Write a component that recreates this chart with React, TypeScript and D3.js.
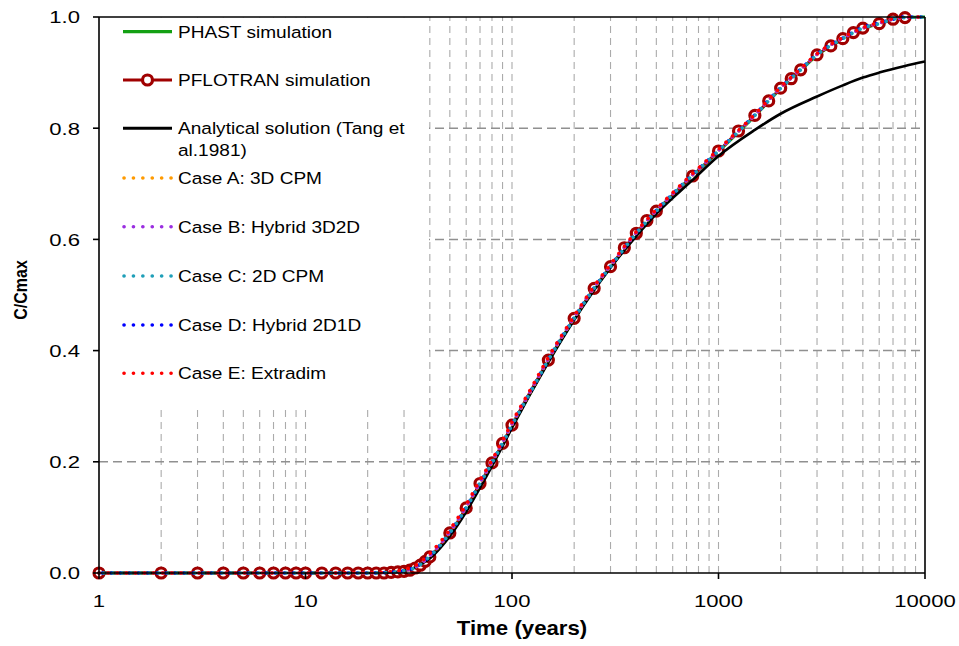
import React from "react";
import * as d3 from "d3";

// ---- data ----
const pflotranTime = [
  1, 2, 3, 4, 5, 6, 7, 8, 9, 10, 12, 14, 16, 18, 20, 22, 24, 26, 28, 30, 32, 34,
  36, 38, 40, 50, 60, 70, 80, 90, 100, 150, 200, 250, 300, 350, 400, 450, 500,
  750, 1000, 1250, 1500, 1750, 2000, 2250, 2500, 3000, 3500, 4000, 4500, 5000,
  6000, 7000, 8000,
];
const pflotranConc = [
  0, 0, 0, 0, 0, 0, 0, 0, 0, 0, 0, 0, 0, 0, 0, 0, 0, 0.001, 0.002, 0.003, 0.005,
  0.009, 0.014, 0.021, 0.029, 0.072, 0.117, 0.161, 0.198, 0.233, 0.266, 0.383,
  0.458, 0.512, 0.551, 0.585, 0.611, 0.634, 0.651, 0.714, 0.759, 0.795, 0.823,
  0.849, 0.872, 0.889, 0.905, 0.932, 0.948, 0.961, 0.972, 0.98, 0.988, 0.996,
  0.999,
];

const phastTime = [
  1, 10, 20, 25, 30, 35, 40, 45, 50, 60, 70, 80, 90, 100, 125, 150, 200, 250,
  300, 400, 500, 700, 1000, 1500, 2000, 2500, 3000, 4000, 5000, 6000, 7000, 8000,
  10000,
];
const phastConc = [
  0, 0, 0, 0.0008, 0.003, 0.011, 0.028, 0.049, 0.071, 0.116, 0.16, 0.197, 0.232,
  0.265, 0.329, 0.382, 0.457, 0.511, 0.55, 0.61, 0.65, 0.704, 0.758, 0.822,
  0.871, 0.904, 0.931, 0.96, 0.979, 0.988, 0.995, 0.999, 1.0,
];

const analyticTime = [
  1, 10, 20, 25, 28, 30, 33, 36, 40, 45, 50, 60, 70, 80, 90, 100, 150, 200, 300,
  400, 500, 750, 1000, 1500, 2000, 3000, 4000, 5000, 6000, 8000, 10000,
];
const analyticConc = [
  0, 0, 0, 0.0005, 0.002, 0.004, 0.008, 0.015, 0.026, 0.045, 0.066, 0.11,
  0.153, 0.192, 0.228, 0.261, 0.379, 0.455, 0.549, 0.606, 0.646, 0.707, 0.75,
  0.797, 0.826, 0.857, 0.877, 0.891, 0.9, 0.912, 0.92,
];

const caseTime = [
  1, 10, 20, 25, 30, 35, 40, 45, 50, 60, 70, 80, 90, 100, 125, 150, 200, 250,
  300, 400, 500, 700, 1000, 1500, 2000, 2500, 3000, 4000, 5000, 6000, 7000, 8000,
  10000,
];
const caseAConc = [
  0, 0, 0, 0.001, 0.004, 0.013, 0.031, 0.051, 0.073, 0.118, 0.162, 0.199, 0.234,
  0.267, 0.331, 0.384, 0.459, 0.513, 0.552, 0.612, 0.652, 0.706, 0.76, 0.824,
  0.873, 0.906, 0.933, 0.962, 0.98, 0.989, 0.996, 0.999, 1.0,
];
const caseBConc = [
  0, 0, 0, 0.001, 0.004, 0.013, 0.031, 0.052, 0.074, 0.119, 0.163, 0.2, 0.235,
  0.268, 0.332, 0.385, 0.46, 0.514, 0.553, 0.612, 0.652, 0.706, 0.76, 0.824,
  0.873, 0.906, 0.933, 0.962, 0.98, 0.989, 0.996, 0.999, 1.0,
];
const caseCConc = [
  0, 0, 0, 0.001, 0.004, 0.012, 0.03, 0.05, 0.072, 0.117, 0.161, 0.198, 0.233,
  0.266, 0.33, 0.383, 0.458, 0.512, 0.551, 0.611, 0.651, 0.705, 0.759, 0.823,
  0.872, 0.905, 0.932, 0.961, 0.98, 0.988, 0.996, 0.999, 1.0,
];
const caseDConc = [
  0, 0, 0, 0.001, 0.004, 0.013, 0.031, 0.051, 0.073, 0.118, 0.162, 0.199, 0.234,
  0.267, 0.331, 0.384, 0.459, 0.513, 0.552, 0.612, 0.652, 0.706, 0.76, 0.824,
  0.873, 0.906, 0.933, 0.962, 0.981, 0.989, 0.996, 1.0, 1.0,
];
const caseEConc = [
  0, 0, 0.0005, 0.002, 0.006, 0.016, 0.035, 0.056, 0.078, 0.123, 0.167, 0.203,
  0.238, 0.271, 0.335, 0.388, 0.462, 0.516, 0.555, 0.614, 0.654, 0.708, 0.762,
  0.825, 0.874, 0.907, 0.934, 0.963, 0.981, 0.99, 0.997, 1.0, 1.0,
];

const timeTickValues = [1, 10, 100, 1000, 10000];
const concTickValues = [0, 0.2, 0.4, 0.6, 0.8, 1.0];
const gridConcValues = [0.2, 0.4, 0.6, 0.8];

const legendLabels = [
  "PHAST simulation",
  "PFLOTRAN simulation",
  "Analytical solution (Tang et|al.1981)",
  "Case A: 3D CPM",
  "Case B: Hybrid 3D2D",
  "Case C: 2D CPM",
  "Case D: Hybrid 2D1D",
  "Case E: Extradim",
];

// ---- styling ----
const W = 959;
const H = 646;
const FONT = "'Liberation Sans', Arial, sans-serif";
const DARK_RED = "#a00000";
const GREEN = "#13a013";
const CASE_COLORS = ["#ff9a00", "#9a2ee0", "#1f9fb8", "#0000ff", "#ff0000"];
// dash phase per case (A..E) and drawing order (teal and red end up on top)
const CASE_OFFSETS = [0, 0, 4.5, 5.6, 0];
const CASE_ORDER = [0, 1, 3, 2, 4];

type Pt = { t: number; c: number };
const zip = (ts: number[], cs: number[]): Pt[] => ts.map((t, i) => ({ t, c: cs[i] }));

export default function App() {
  const x = d3.scaleLog().domain([1, 10000]).range([99, 925]);
  const y = d3.scaleLinear().domain([0, 1]).range([573, 17]);

  const line = d3
    .line<Pt>()
    .x((d) => x(d.t))
    .y((d) => y(d.c))
    .curve(d3.curveMonotoneX);

  const pflotran = zip(pflotranTime, pflotranConc);
  const phast = zip(phastTime, phastConc);
  const analytic = zip(analyticTime, analyticConc);
  const cases = [caseAConc, caseBConc, caseCConc, caseDConc, caseEConc].map((cs) =>
    zip(caseTime, cs)
  );

  const gridTimes = x.ticks().filter((t) => t > 1 && t < 10000);

  const legendX0 = 123;
  const legendX1 = 172;
  const legendTextX = 178;
  const legendRowY = [31.7, 80, 128.3, 178, 226.7, 276, 325, 373.3];

  const tickSx = 1.3;
  const legendSx = 1.17;

  return (
    <svg
      width={W}
      height={H}
      style={{ position: "absolute", left: 0, top: 0, background: "#fff" }}
      fontFamily={FONT}
    >
      <rect x={0} y={0} width={W} height={H} fill="#fff" />

      {/* gridlines */}
      <g>
        {gridTimes.map((t) => (
          <line
            key={"vx" + t}
            x1={x(t)}
            x2={x(t)}
            y1={y(0)}
            y2={y(1)}
            stroke="#ababab"
            strokeWidth={1.1}
            strokeDasharray="7 5"
          />
        ))}
        {gridConcValues.map((c) => (
          <line
            key={"hy" + c}
            x1={x(1)}
            x2={x(10000)}
            y1={y(c)}
            y2={y(c)}
            stroke="#909090"
            strokeWidth={1.5}
            strokeDasharray="9 5"
          />
        ))}
      </g>

      {/* legend background */}
      <rect x={99.5} y={17.5} width={329.5} height={392.5} fill="#fff" />

      {/* series */}
      <path d={line(phast) ?? ""} fill="none" stroke={GREEN} strokeWidth={3} />
      <path d={line(pflotran) ?? ""} fill="none" stroke={DARK_RED} strokeWidth={2.6} />
      {pflotran.map((d, i) => (
        <circle
          key={"pf" + i}
          cx={x(d.t)}
          cy={y(d.c)}
          r={5}
          fill="#fff"
          stroke={DARK_RED}
          strokeWidth={3.2}
        />
      ))}
      <path d={line(analytic) ?? ""} fill="none" stroke="#000" strokeWidth={2.6} />
      {CASE_ORDER.map((i) => (
        <path
          key={"case" + i}
          d={line(cases[i]) ?? ""}
          fill="none"
          stroke={CASE_COLORS[i]}
          strokeWidth={3.6}
          strokeLinecap="round"
          strokeDasharray="0.1 9"
          strokeDashoffset={CASE_OFFSETS[i]}
        />
      ))}

      {/* frame and axes */}
      <g stroke="#000" strokeWidth={1.6}>
        <line x1={x(1)} x2={x(10000)} y1={y(0)} y2={y(0)} />
        <line x1={x(1)} x2={x(10000)} y1={y(1)} y2={y(1)} />
        <line x1={x(1)} x2={x(1)} y1={y(0)} y2={y(1)} />
        <line x1={x(10000)} x2={x(10000)} y1={y(0)} y2={y(1)} />
        {concTickValues.map((c) => (
          <line key={"yt" + c} x1={x(1) - 6} x2={x(1)} y1={y(c)} y2={y(c)} />
        ))}
        {timeTickValues.map((t) => (
          <line key={"xt" + t} x1={x(t)} x2={x(t)} y1={y(0)} y2={y(0) + 6} />
        ))}
      </g>

      {/* tick labels */}
      <g fontSize={17} fill="#000">
        {concTickValues.map((c) => (
          <text
            key={"yl" + c}
            transform={`translate(80,${y(c) + 6.3}) scale(${tickSx},1)`}
            textAnchor="end"
          >
            {d3.format(".1f")(c)}
          </text>
        ))}
        {timeTickValues.map((t) => (
          <text
            key={"xl" + t}
            transform={`translate(${x(t)},${y(0) + 33.5}) scale(${tickSx},1)`}
            textAnchor="middle"
          >
            {String(t)}
          </text>
        ))}
      </g>

      {/* axis titles */}
      <text
        transform={`translate(522,635) scale(1.14,1)`}
        textAnchor="middle"
        fontSize={19.5}
        fontWeight="bold"
      >
        Time (years)
      </text>
      <text
        transform={`translate(26.5,290) rotate(-90) scale(1,1.18)`}
        textAnchor="middle"
        fontSize={16}
        fontWeight="bold"
      >
        C/Cmax
      </text>

      {/* legend */}
      <g>
        {legendLabels.map((label, i) => {
          const ly = legendRowY[i];
          const lines = label.split("|");
          let sample: React.ReactNode;
          if (i === 0) {
            sample = (
              <line x1={legendX0} x2={legendX1} y1={ly} y2={ly} stroke={GREEN} strokeWidth={3.2} />
            );
          } else if (i === 1) {
            sample = (
              <g>
                <line x1={legendX0} x2={legendX1} y1={ly} y2={ly} stroke={DARK_RED} strokeWidth={3} />
                <circle
                  cx={(legendX0 + legendX1) / 2}
                  cy={ly}
                  r={5}
                  fill="#fff"
                  stroke={DARK_RED}
                  strokeWidth={3.2}
                />
              </g>
            );
          } else if (i === 2) {
            sample = (
              <line x1={legendX0} x2={legendX1} y1={ly} y2={ly} stroke="#000" strokeWidth={3} />
            );
          } else {
            sample = (
              <line
                x1={legendX0 + 1}
                x2={legendX1}
                y1={ly}
                y2={ly}
                stroke={CASE_COLORS[i - 3]}
                strokeWidth={3.6}
                strokeLinecap="round"
                strokeDasharray="0.1 9.3"
              />
            );
          }
          return (
            <g key={"lg" + i}>
              {sample}
              {lines.map((s, j) => (
                <text
                  key={j}
                  transform={`translate(${legendTextX},${ly + 6 + j * 21.7}) scale(${legendSx},1)`}
                  fontSize={16.3}
                  fill="#000"
                >
                  {s}
                </text>
              ))}
            </g>
          );
        })}
      </g>
    </svg>
  );
}
